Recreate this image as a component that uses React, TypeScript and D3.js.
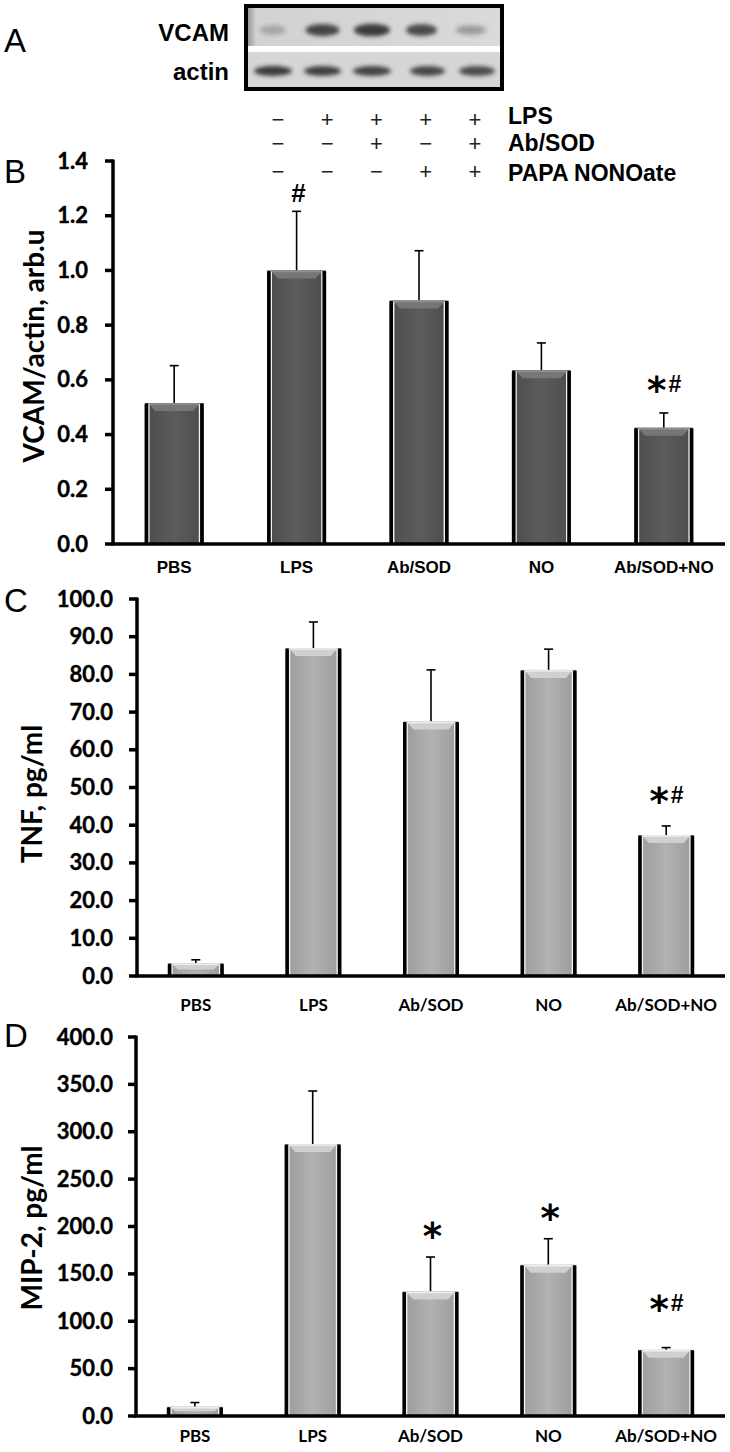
import React from 'react';
import * as d3 from 'd3';

// ---------- data ----------
const groups = ['PBS', 'LPS', 'Ab/SOD', 'NO', 'Ab/SOD+NO'];

const vcamMean = [0.515, 1.0, 0.89, 0.635, 0.425];
const vcamErr = [0.137, 0.216, 0.182, 0.1, 0.054];
const vcamTicks = [0, 0.2, 0.4, 0.6, 0.8, 1.0, 1.2, 1.4];
const vcamMarks = ['', '#', '', '', '*#'];
const vcamMarkAt = [0, 1.283, 0, 0, 0.585];

const tnfMean = [3.4, 87.0, 67.5, 81.2, 37.4];
const tnfErr = [0.9, 6.9, 13.7, 5.5, 2.4];
const tnfTicks = [0, 10, 20, 30, 40, 50, 60, 70, 80, 90, 100];
const tnfMarks = ['', '', '', '', '*#'];
const tnfMarkAt = [0, 0, 0, 0, 48];

const mipMean = [9.8, 287, 131.5, 159.6, 69.8];
const mipErr = [4.4, 56, 36.3, 27.5, 2.4];
const mipTicks = [0, 50, 100, 150, 200, 250, 300, 350, 400];
const mipMarks = ['', '', '*', '*', '*#'];
const mipMarkAt = [0, 0, 196, 215, 119];

const treatmentNames = ['LPS', 'Ab/SOD', 'PAPA NONOate'];
const lpsSigns = ['−', '+', '+', '+', '+'];
const abSodSigns = ['−', '−', '+', '−', '+'];
const papaSigns = ['−', '−', '−', '+', '+'];

const lanes = [1, 2, 3, 4, 5];
const vcamBand = [0.28, 0.85, 0.92, 0.82, 0.35];
const vcamBandW = [26, 34, 36, 31, 30];
const actinBand = [0.92, 0.88, 0.86, 0.84, 0.82];
const actinBandW = [38, 37, 38, 35, 36];

// ---------- helpers ----------
const CAL = 'Lato, "Open Sans", sans-serif';
const ARIAL = '"Liberation Sans", Arial, sans-serif';

type BarProps = { x: number; y: number; w: number; h: number; dark: boolean };

function Bar({ x, y, w, h, dark }: BarProps) {
  const edge = 3.5;
  const bev = Math.min(8, h / 2);
  const inset = Math.min(7, bev);
  const grad = dark ? 'url(#gDark)' : 'url(#gLight)';
  const bevel = dark ? '#767676' : '#d0d0d0';
  const hi = dark ? '#909090' : '#eeeeee';
  return (
    <g>
      <rect x={x} y={y} width={w} height={h} fill={grad} />
      <path
        d={`M${x + edge},${y} L${x + w - edge},${y} L${x + w - edge - inset},${y + bev} L${x + edge + inset},${y + bev} Z`}
        fill={bevel}
      />
      <line x1={x + edge + 1} x2={x + w - edge - 1} y1={y + 1} y2={y + 1} stroke={hi} strokeWidth={1.5} />
      <rect x={x + edge} y={y + 1} width={1.4} height={h - 1} fill="#f2f2f2" />
      <rect x={x + w - edge - 1.4} y={y + 1} width={1.4} height={h - 1} fill="#f2f2f2" />
      <rect x={x} y={y + 0.5} width={edge} height={h - 0.5} fill="#000" rx={1.2} />
      <rect x={x + w - edge} y={y + 0.5} width={edge} height={h - 0.5} fill="#000" rx={1.2} />
    </g>
  );
}

function Mark({ text, cx, cy }: { text: string; cx: number; cy: number }) {
  if (!text) return null;
  if (text === '#') {
    return (
      <text x={cx} y={cy + 9} textAnchor="middle" fontFamily={ARIAL} fontWeight="bold" fontSize={26}>#</text>
    );
  }
  if (text === '*') {
    return (
      <text x={cx} y={cy + 19} textAnchor="middle" fontFamily='"DejaVu Sans", sans-serif' fontWeight="bold" fontSize={37}>*</text>
    );
  }
  // "*#"
  return (
    <g>
      <text x={cx - 9} y={cy + 19} textAnchor="middle" fontFamily='"DejaVu Sans", sans-serif' fontWeight="bold" fontSize={37}>*</text>
      <text x={cx + 9} y={cy + 8} textAnchor="middle" fontFamily={ARIAL} fontWeight="bold" fontSize={23}>#</text>
    </g>
  );
}

type PanelProps = {
  x0: number; x1: number; yTop: number; yBottom: number;
  max: number; ticks: number[]; digits: number;
  means: number[]; errs: number[]; marks: string[]; markAt: number[];
  title: string; titleX: number; titleY: number;
  letter: string; letterY: number;
  dark: boolean; labelY: number; labelFont: string; labelSize: number;
  tickRight: number; tickSize: number; padInner: number;
};

function Panel(p: PanelProps) {
  const x = d3.scaleBand<string>().domain(groups).range([p.x0, p.x1]).paddingInner(p.padInner).paddingOuter(p.padInner / 2);
  const y = d3.scaleLinear().domain([0, p.max]).range([p.yBottom, p.yTop]);
  const bw = x.bandwidth();
  const fmt = d3.format(`.${p.digits}f`);
  return (
    <g>
      <text x={4} y={p.letterY} fontFamily={ARIAL} fontSize={33}>{p.letter}</text>
      <text
        transform={`translate(${p.titleX},${p.titleY}) rotate(-90)`}
        textAnchor="middle" fontFamily={CAL} fontWeight="bold" fontSize={28}
      >{p.title}</text>
      {p.ticks.map((t) => (
        <g key={t}>
          <line x1={p.x0 - 8} x2={p.x0} y1={y(t)} y2={y(t)} stroke="#000" strokeWidth={3.5} />
          <text x={p.tickRight} y={y(t) + 7.5} textAnchor="end" fontFamily={CAL} fontWeight="bold" fontSize={p.tickSize}
            stroke="#000" strokeWidth={0.4}>{fmt(t)}</text>
        </g>
      ))}
      {groups.map((g, i) => {
        const bx = x(g)!;
        const cx = bx + bw / 2;
        const top = y(p.means[i]);
        const et = y(p.means[i] + p.errs[i]);
        return (
          <g key={g}>
            <line x1={cx} x2={cx} y1={top} y2={et} stroke="#000" strokeWidth={1.6} />
            <line x1={cx - 4.5} x2={cx + 4.5} y1={et} y2={et} stroke="#000" strokeWidth={1.6} />
            <Bar x={bx} y={top} w={bw} h={p.yBottom - top} dark={p.dark} />
            <Mark text={p.marks[i]} cx={cx + 2} cy={y(p.markAt[i])} />
            <text x={cx} y={p.labelY} textAnchor="middle" fontFamily={p.labelFont} fontWeight="bold" fontSize={p.labelSize}>{g}</text>
          </g>
        );
      })}
      <line x1={p.x0} x2={p.x0} y1={p.yTop - 1.5} y2={p.yBottom} stroke="#000" strokeWidth={3.5} />
      <line x1={p.x0 - 2} x2={p.x1} y1={p.yBottom} y2={p.yBottom} stroke="#000" strokeWidth={3.5} />
    </g>
  );
}

function Blot() {
  const lx = d3.scalePoint<number>().domain(lanes).range([273, 471]);
  const sx = d3.scalePoint<number>().domain(lanes).range([278, 475]);
  const rows = [lpsSigns, abSodSigns, papaSigns];
  const rowY = [127, 151, 179];
  const nameY = [124, 151, 181];
  return (
    <g>
      <text x={4} y={52} fontFamily={ARIAL} fontSize={33}>A</text>
      <text x={229} y={41} textAnchor="end" fontFamily={ARIAL} fontWeight="bold" fontSize={24}>VCAM</text>
      <text x={229} y={80} textAnchor="end" fontFamily={ARIAL} fontWeight="bold" fontSize={24}>actin</text>
      <rect x={246} y={6} width={256} height={40} fill="url(#gBlot)" />
      <rect x={246} y={46} width={256} height={6} fill="#fff" />
      <rect x={246} y={52} width={256} height={37} fill="#d6d6d6" />
      {lanes.map((l, i) => (
        <g key={l} filter="url(#blur)">
          <ellipse cx={lx(l)!} cy={30} rx={vcamBandW[i] / 2} ry={4 + vcamBand[i] * 2.5} fill="#2a2a2a" opacity={vcamBand[i]} />
          <ellipse cx={lx(l)! + (i > 2 ? 6 : 0)} cy={71} rx={actinBandW[i] / 2} ry={5} fill="#2a2a2a" opacity={actinBand[i]} />
        </g>
      ))}
      <rect x={246} y={6} width={256} height={83} fill="none" stroke="#000" strokeWidth={4} />
      {rows.map((r, ri) => (
        <g key={ri}>
          {r.map((s, i) => (
            <text key={i} x={sx(lanes[i])!} y={rowY[ri]} textAnchor="middle" fontFamily={ARIAL} fontSize={22} fill="#222">{s}</text>
          ))}
          <text x={508} y={nameY[ri]} fontFamily={ARIAL} fontWeight="bold" fontSize={23}>{treatmentNames[ri]}</text>
        </g>
      ))}
    </g>
  );
}

export default function App() {
  return (
    <svg width={730} height={1452} style={{ position: 'absolute', left: 0, top: 0, background: '#fff' }}>
      <defs>
        <linearGradient id="gDark" x1="0" x2="1" y1="0" y2="0">
          <stop offset="0" stopColor="#4c4c4c" />
          <stop offset="0.5" stopColor="#5c5c5c" />
          <stop offset="1" stopColor="#4c4c4c" />
        </linearGradient>
        <linearGradient id="gLight" x1="0" x2="1" y1="0" y2="0">
          <stop offset="0" stopColor="#9a9a9a" />
          <stop offset="0.5" stopColor="#b2b2b2" />
          <stop offset="1" stopColor="#9a9a9a" />
        </linearGradient>
        <linearGradient id="gBlot" x1="0" x2="1" y1="0" y2="0">
          <stop offset="0" stopColor="#8a8a8a" />
          <stop offset="0.04" stopColor="#d2d2d2" />
          <stop offset="1" stopColor="#dadada" />
        </linearGradient>
        <filter id="blur" x="-30%" y="-80%" width="160%" height="260%">
          <feGaussianBlur stdDeviation="2" />
        </filter>
      </defs>
      <Blot />
      <Panel
        x0={113} x1={725} yTop={161} yBottom={544} max={1.4} ticks={vcamTicks} digits={1}
        means={vcamMean} errs={vcamErr} marks={vcamMarks} markAt={vcamMarkAt}
        title="VCAM/actin, arb.u" titleX={44} titleY={346} letter="B" letterY={183}
        dark={true} labelY={573} labelFont={ARIAL} labelSize={17} tickRight={88} tickSize={22} padInner={0.518}
      />
      <Panel
        x0={137} x1={725} yTop={599} yBottom={976} max={100} ticks={tnfTicks} digits={1}
        means={tnfMean} errs={tnfErr} marks={tnfMarks} markAt={tnfMarkAt}
        title="TNF, pg/ml" titleX={42} titleY={794} letter="C" letterY={612}
        dark={false} labelY={1011} labelFont={CAL} labelSize={17} tickRight={113} tickSize={22} padInner={0.524}
      />
      <Panel
        x0={136} x1={725} yTop={1037} yBottom={1416} max={400} ticks={mipTicks} digits={1}
        means={mipMean} errs={mipErr} marks={mipMarks} markAt={mipMarkAt}
        title="MIP-2, pg/ml" titleX={42} titleY={1228} letter="D" letterY={1047}
        dark={false} labelY={1442} labelFont={CAL} labelSize={17} tickRight={113} tickSize={22} padInner={0.524}
      />
    </svg>
  );
}
